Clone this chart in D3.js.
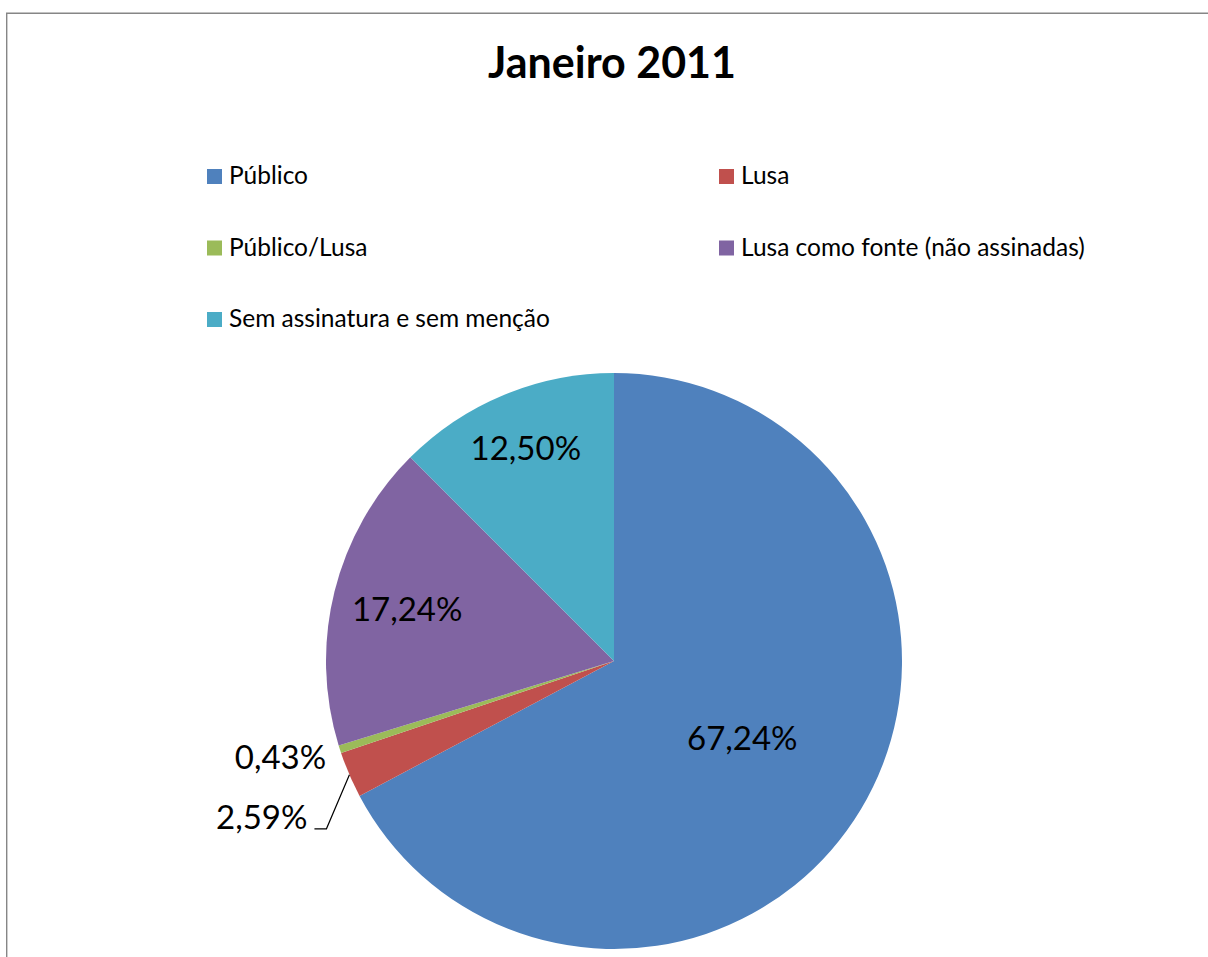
<!DOCTYPE html>
<html>
<head>
<meta charset="utf-8">
<script src="https://cdn.jsdelivr.net/npm/d3@7"></script>
<style>
  html, body { margin: 0; padding: 0; background: #fff; overflow: hidden; }
  svg { display: block; }
</style>
</head>
<body>
<script>
var width = 1208;
var height = 957;

// data
var titleText = "Janeiro 2011";
var categories = ["Público", "Lusa", "Público/Lusa", "Lusa como fonte (não assinadas)", "Sem assinatura e sem menção"];
var shares = [67.24, 2.59, 0.43, 17.24, 12.50];
var sliceColors = ["#4F81BD", "#C0504D", "#9BBB59", "#8064A2", "#4BACC6"];

// layout
var fontFamily = "Lato, 'Open Sans', sans-serif";
var cx = 614, cy = 661, radius = 288;
var labelRadiusFactor = [0.52, 1, 1.05, 0.74, 0.8];
var outsideLabel = [false, true, true, false, false];

var svg = d3.select("body").append("svg")
  .attr("width", width)
  .attr("height", height);

svg.append("rect")
  .attr("width", width)
  .attr("height", height)
  .attr("fill", "#fff");

// chart frame: only the left and top edges fall inside the window
svg.append("path")
  .attr("d", "M6.7," + (height + 5) + "V13.3H" + (width + 5))
  .attr("fill", "none")
  .attr("stroke", "#868686")
  .attr("stroke-width", 1.4);

svg.append("text")
  .attr("x", 612)
  .attr("y", 78)
  .attr("text-anchor", "middle")
  .attr("font-family", fontFamily)
  .attr("font-weight", "bold")
  .attr("font-size", 43)
  .attr("fill", "#000")
  .text(titleText);

// legend: two columns
var legendX = [207, 719];
var legendY0 = 169, legendRowStep = 71.5, swatch = 15;
var legend = svg.append("g").selectAll("g")
  .data(categories)
  .join("g")
  .attr("transform", function(d, i) {
    return "translate(" + legendX[i % 2] + "," + (legendY0 + Math.floor(i / 2) * legendRowStep) + ")";
  });
legend.append("rect")
  .attr("width", swatch)
  .attr("height", swatch)
  .attr("fill", function(d, i) { return sliceColors[i]; });
legend.append("text")
  .attr("x", 22)
  .attr("y", 15)
  .attr("font-family", fontFamily)
  .attr("font-size", 24.5)
  .attr("fill", "#000")
  .text(function(d) { return d; });

// pie
var pie = d3.pie().sort(null).value(function(d) { return d; });
var arcs = pie(shares);
var arc = d3.arc().innerRadius(0).outerRadius(radius);

var pieG = svg.append("g").attr("transform", "translate(" + cx + "," + cy + ")");

pieG.selectAll("path")
  .data(arcs)
  .join("path")
  .attr("d", arc)
  .attr("fill", function(d, i) { return sliceColors[i]; });

var fmt = function(v) { return v.toFixed(2).replace(".", ",") + "%"; };

var polar = function(angle, r) {
  return [Math.sin(angle) * r, -Math.cos(angle) * r];
};

var addLabel = function(x, y, anchor, txt) {
  pieG.append("text")
    .attr("x", x)
    .attr("y", y)
    .attr("dy", "0.35em")
    .attr("text-anchor", anchor)
    .attr("font-family", fontFamily)
    .attr("font-size", 33)
    .attr("fill", "#000")
    .text(txt);
};

arcs.forEach(function(d, i) {
  var mid = (d.startAngle + d.endAngle) / 2;
  var p = polar(mid, radius * labelRadiusFactor[i]);
  if (!outsideLabel[i]) {
    addLabel(p[0], p[1], "middle", fmt(shares[i]));
  } else if (labelRadiusFactor[i] > 1) {
    // label sits just outside the slice
    addLabel(p[0], p[1] + 4, "end", fmt(shares[i]));
  } else {
    // label pushed down, with a leader line
    var e = polar(mid, radius);
    var elbow = [e[0] - 23, e[1] + 54];
    var end = [elbow[0] - 12, elbow[1]];
    pieG.append("polyline")
      .attr("points", [e, elbow, end].map(function(q) { return q.join(","); }).join(" "))
      .attr("fill", "none")
      .attr("stroke", "#000")
      .attr("stroke-width", 1.2);
    addLabel(end[0] - 7, end[1] - 11, "end", fmt(shares[i]));
  }
});
</script>
</body>
</html>
